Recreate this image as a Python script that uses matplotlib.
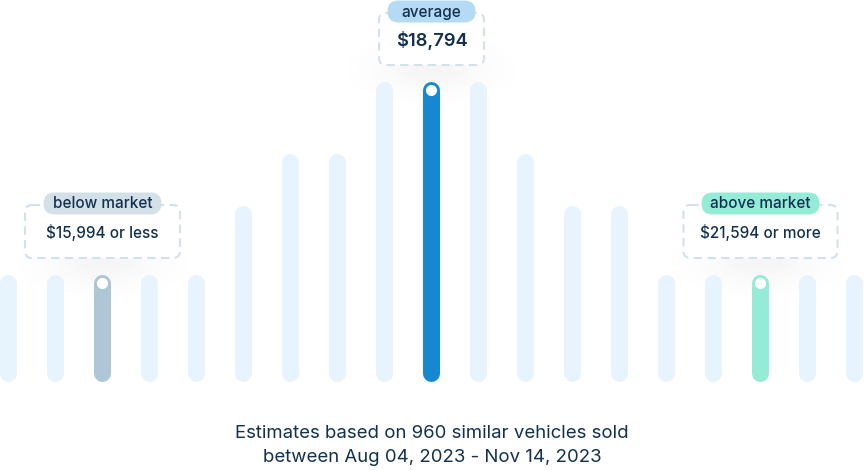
import numpy as np
import matplotlib
matplotlib.use("Agg")
import matplotlib.pyplot as plt
from matplotlib.patches import FancyBboxPatch

plt.rcParams['font.family'] = ['Inter', 'DejaVu Sans']

# relative share of sold vehicles per price bucket (bar heights, px-like units)
heights = [107, 107, 107, 107, 107, 176, 228, 228, 300, 300, 300,
           228, 176, 176, 107, 107, 107, 107, 107]

# highlighted buckets
mark_idx = [2, 9, 16]
mark_labels = ["below market", "average", "above market"]
mark_values = ["$15,994 or less", "$18,794", "$21,594 or more"]

caption = ["Estimates based on 960 similar vehicles sold",
           "between Aug 04, 2023 - Nov 14, 2023"]

# styles
base_col = "#e8f4fd"
mark_cols = ["#aec6d5", "#1688d2", "#94ecd7"]
pill_cols = ["#d4e0e8", "#b4dbf3", "#94ecd7"]
box_w = [155, 105, 154]
box_h = [53, 52, 53]
pill_w = [118, 88, 118]
val_size = [11, 13.2, 11]
val_weight = ["medium", "semibold", "medium"]
text_col = "#12304f"
border_col = "#d3e1ea"

fig = plt.figure(figsize=(8.64, 4.70), dpi=100)

# overlay in pixel units (behind the bars) for cards, shadows and text
ov = fig.add_axes([0, 0, 1, 1], zorder=0)
ov.set_xlim(0, 864)
ov.set_ylim(470, 0)
ov.axis('off')

ax = fig.add_axes([0, 0, 1, 1], zorder=1)
ax.patch.set_alpha(0)
ax.set_xlim(-8.5 / 47, (864 - 8.5) / 47)
ax.set_ylim(-89, 381)
ax.axis('off')

lw = 17 * 72 / 100  # 17px bars
cap = 8.5
for i, h in enumerate(heights):
    col = base_col
    if i in mark_idx:
        col = mark_cols[mark_idx.index(i)]
    ax.plot([i, i], [cap, h - cap], color=col, lw=lw,
            solid_capstyle='round', zorder=2)
    if i in mark_idx:
        ax.plot(i, h - 9, 'o', ms=8, color='white', mec='none', zorder=3)

to_px = lambda p: ov.transData.inverted().transform(ax.transData.transform(p))

for k, i in enumerate(mark_idx):
    cx, top = to_px((i, heights[i]))
    y1 = top - 16
    y0 = y1 - box_h[k]

    # soft shadow under the card
    gx = np.linspace(-110, 110, 221)
    gy = np.linspace(-60, 60, 121)
    X, Y = np.meshgrid(gx, gy)
    a = 0.07 * np.exp(-(X / 50) ** 2 - (Y / 22) ** 2)
    img = np.zeros(X.shape + (4,))
    img[..., :3] = 0.45
    img[..., 3] = a
    sy = y1 + 4
    ov.imshow(img, extent=(cx - 110, cx + 110, sy + 60, sy - 60),
              zorder=1, interpolation='bilinear', aspect='auto')

    box = FancyBboxPatch((cx - box_w[k] / 2, y0), box_w[k], box_h[k],
                         boxstyle="round,pad=0,rounding_size=7",
                         fc='white', ec=border_col, lw=1.5,
                         ls=(0, (4, 2.6)), zorder=2)
    ov.add_patch(box)

    pc = y0 - 1.5
    pill = FancyBboxPatch((cx - pill_w[k] / 2, pc - 11), pill_w[k], 22,
                          boxstyle="round,pad=0,rounding_size=11",
                          fc=pill_cols[k], ec='none', zorder=3)
    ov.add_patch(pill)
    ov.text(cx, pc + 0.5, mark_labels[k], ha='center', va='center',
            fontsize=11, fontweight='medium', color=text_col, zorder=4)
    ov.text(cx, (y0 + y1) / 2 + 1, mark_values[k], ha='center', va='center',
            fontsize=val_size[k], fontweight=val_weight[k], color=text_col,
            zorder=4)

ov.text(432, 434, caption[0], ha='center', va='center', fontsize=13.4,
        color=text_col)
ov.text(432, 458, caption[1], ha='center', va='center', fontsize=13.4,
        color=text_col)

fig.savefig("out.png", dpi=100)
